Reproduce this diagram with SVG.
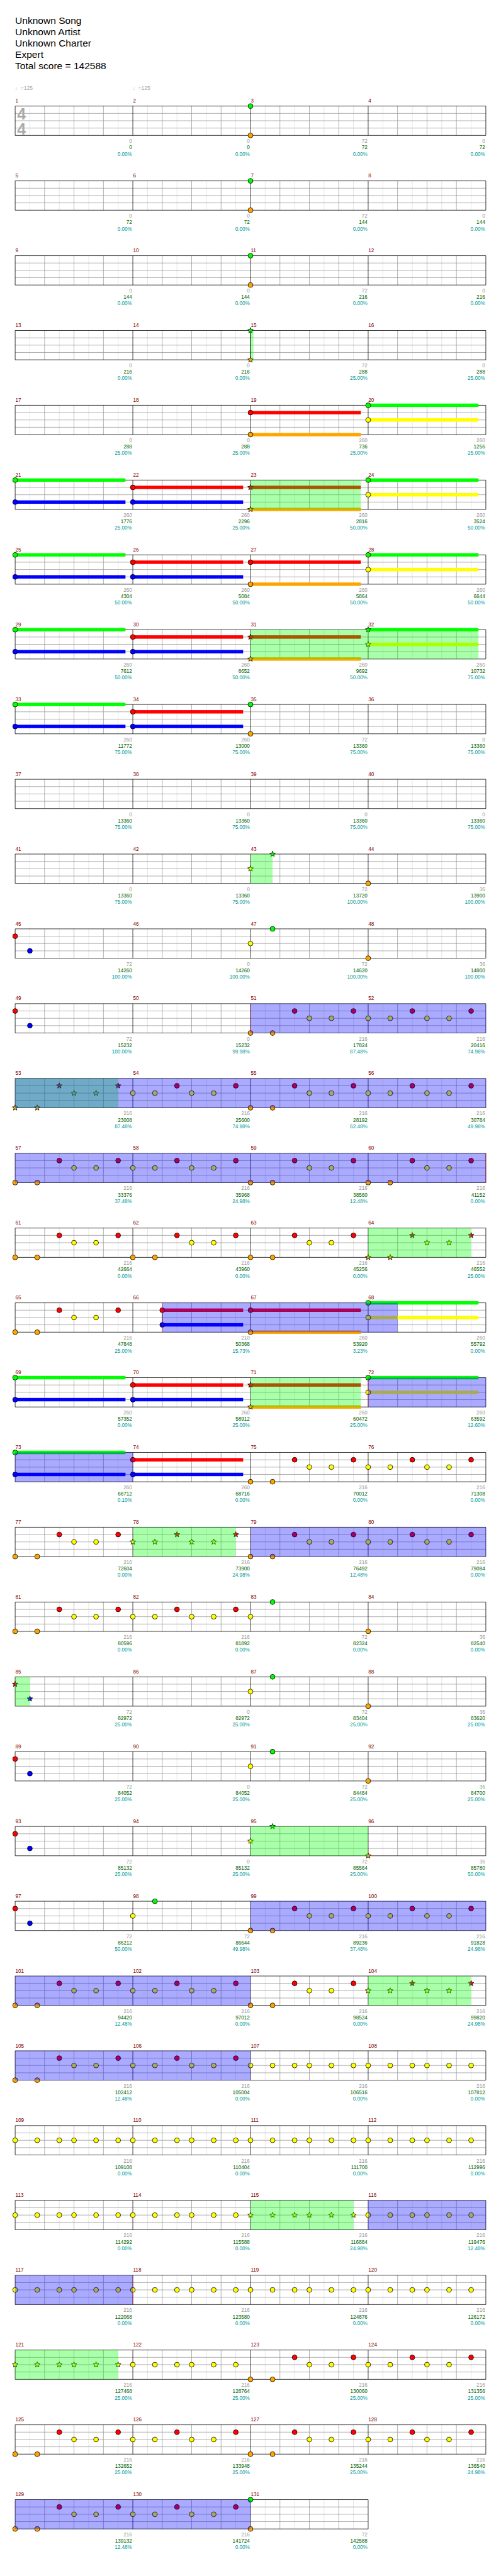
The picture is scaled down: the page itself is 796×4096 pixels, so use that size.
<svg xmlns="http://www.w3.org/2000/svg" xmlns:xlink="http://www.w3.org/1999/xlink" width="796" height="4096" viewBox="0 0 796 4096">
<style>
text{font-family:"Liberation Sans",Arial,sans-serif}
.h{font-size:20px;fill:#000}
.mn{font-size:10.5px;fill:#800000}
.a text,.b text,.c text{font-size:10.5px;text-anchor:end}
.a{fill:#999}.b{fill:#006400}.c{fill:#009a9a}
.n{stroke:#000;stroke-width:1}
.G{fill:#00ff00}.R{fill:#ff0000}.Y{fill:#ffff00}.B{fill:#0000ff}.O{fill:#ffa500}
.sp{fill:#00ff00;fill-opacity:.333}
.so{fill:#0000ff;fill-opacity:.333}
.sl{stroke:#ff0000;stroke-opacity:.55;stroke-width:1;fill:none}
.lt{stroke:#dddddd;stroke-width:1;fill:none}
.md{stroke:#999;stroke-width:1;fill:none}
.bk{stroke:#000;stroke-width:1;fill:none}
.tp{font-size:11px;fill:#aaa}
.ts{font-size:32px;font-weight:bold;fill:#aaa}
</style>
<defs>
<circle id="c" class="n" r="5"/>
<path id="st" class="n" d="M0-6L1.53-2.1L5.71-1.85L2.47.8L3.53 4.85L0 2.6L-3.53 4.85L-2.47.8L-5.71-1.85L-1.53-2.1Z"/>
<g id="meas"><path class="lt" d="M30.06 0V60M90.19 0V60M150.31 0V60M210.44 0V60"/><path class="md" d="M60.13 0V60M120.25 0V60M180.38 0V60"/></g>
<g id="row4"><rect x="31" y="0" width="962" height="60" fill="#fff"/><use href="#meas" x="31"/><use href="#meas" x="271.5"/><use href="#meas" x="512"/><use href="#meas" x="752.5"/><path class="md" d="M31 15H993M31 30H993M31 45H993"/><path class="bk" d="M31 0H993V60H31ZM271.5 0V60M512 0V60M752.5 0V60"/></g>
<g id="row3"><rect x="31" y="0" width="721.5" height="60" fill="#fff"/><use href="#meas" x="31"/><use href="#meas" x="271.5"/><use href="#meas" x="512"/><path class="md" d="M31 15H752.5M31 30H752.5M31 45H752.5"/><path class="bk" d="M31 0H752.5V60H31ZM271.5 0V60M512 0V60"/></g>
<g id="pA"><use href="#c" class="O" y="60"/><use href="#c" class="O" x="45.09" y="60"/><use href="#c" class="R" x="90.19" y="15"/><use href="#c" class="Y" x="120.25" y="30"/><use href="#c" class="Y" x="165.34" y="30"/><use href="#c" class="R" x="210.44" y="15"/></g>
<g id="pAs"><use href="#st" class="O" y="60"/><use href="#st" class="O" x="45.09" y="60"/><use href="#st" class="R" x="90.19" y="15"/><use href="#st" class="Y" x="120.25" y="30"/><use href="#st" class="Y" x="165.34" y="30"/><use href="#st" class="R" x="210.44" y="15"/></g>
<g id="pB"><use href="#c" class="Y" y="30"/><use href="#c" class="Y" x="45.09" y="30"/><use href="#c" class="R" x="90.19" y="15"/><use href="#c" class="Y" x="120.25" y="30"/><use href="#c" class="Y" x="165.34" y="30"/><use href="#c" class="R" x="210.44" y="15"/></g>
<g id="pBs"><use href="#st" class="Y" y="30"/><use href="#st" class="Y" x="45.09" y="30"/><use href="#st" class="R" x="90.19" y="15"/><use href="#st" class="Y" x="120.25" y="30"/><use href="#st" class="Y" x="165.34" y="30"/><use href="#st" class="R" x="210.44" y="15"/></g>
<g id="pC"><use href="#c" class="Y" y="30"/><use href="#c" class="Y" x="45.09" y="30"/><use href="#c" class="Y" x="90.19" y="30"/><use href="#c" class="Y" x="120.25" y="30"/><use href="#c" class="Y" x="165.34" y="30"/><use href="#c" class="Y" x="210.44" y="30"/></g>
<g id="pCs"><use href="#st" class="Y" y="30"/><use href="#st" class="Y" x="45.09" y="30"/><use href="#st" class="Y" x="90.19" y="30"/><use href="#st" class="Y" x="120.25" y="30"/><use href="#st" class="Y" x="165.34" y="30"/><use href="#st" class="Y" x="210.44" y="30"/></g>
<g id="sGB"><rect class="G" y="-3.5" width="225.47" height="7"/><rect class="B" y="41.5" width="225.47" height="7"/><use href="#c" class="G"/><use href="#c" class="B" y="45"/></g>
<g id="sRB"><rect class="R" y="11.5" width="225.47" height="7"/><rect class="B" y="41.5" width="225.47" height="7"/><use href="#c" class="R" y="15"/><use href="#c" class="B" y="45"/></g>
<g id="sRO"><rect class="R" y="11.5" width="225.47" height="7"/><rect class="O" y="56.5" width="225.47" height="7"/><use href="#c" class="R" y="15"/><use href="#c" class="O" y="60"/></g>
<g id="sROs"><rect class="R" y="11.5" width="225.47" height="7"/><rect class="O" y="56.5" width="225.47" height="7"/><use href="#st" class="R" y="15"/><use href="#st" class="O" y="60"/></g>
<g id="sGY"><rect class="G" y="-3.5" width="225.47" height="7"/><rect class="Y" y="26.5" width="225.47" height="7"/><use href="#c" class="G"/><use href="#c" class="Y" y="30"/></g>
<g id="sGYs"><rect class="G" y="-3.5" width="225.47" height="7"/><rect class="Y" y="26.5" width="225.47" height="7"/><use href="#st" class="G"/><use href="#st" class="Y" y="30"/></g>
<g id="pGO"><use href="#c" class="G"/><use href="#c" class="O" y="60"/></g>
<g id="pGOs"><use href="#st" class="G"/><use href="#st" class="O" y="60"/></g>
<g id="pRB1"><use href="#c" class="R" y="15"/><use href="#c" class="B" x="30.06" y="45"/></g>
<g id="pRB1s"><use href="#st" class="R" y="15"/><use href="#st" class="B" x="30.06" y="45"/></g>
<g id="pYG"><use href="#c" class="Y" y="30"/><use href="#c" class="G" x="45.09"/></g>
<g id="pYGs"><use href="#st" class="Y" y="30"/><use href="#st" class="G" x="45.09"/></g>
<g id="pO"><use href="#c" class="O" y="60"/></g>
<g id="pOs"><use href="#st" class="O" y="60"/></g>
</defs>
<rect width="796" height="4096" fill="#fff"/>
<g transform="scale(0.77734)">
<g id="header">
<text class="h" x="31" y="49">Unknown Song</text>
<text class="h" x="31" y="72">Unknown Artist</text>
<text class="h" x="31" y="95">Unknown Charter</text>
<text class="h" x="31" y="118">Expert</text>
<text class="h" x="31" y="141">Total score = 142588</text>
</g>

<g id="r0" transform="translate(0,217)"><use href="#row4"/>
<text class="ts" x="35" y="28">4</text><text class="ts" x="35" y="58">4</text>
<text class="tp" x="31" y="-33">♩=125</text><text class="tp" x="271.5" y="-33">♩=125</text>
<use href="#pGO" x="512"/>
<text class="mn" x="31.5" y="-7">1</text><text class="mn" x="272" y="-7">2</text><text class="mn" x="512.5" y="-7">3</text><text class="mn" x="753" y="-7">4</text>
<g class="a"><text x="270" y="75.5">0</text><text x="510.5" y="75.5">0</text><text x="751" y="75.5">72</text><text x="991.5" y="75.5">0</text></g>
<g class="b"><text x="270" y="88.5">0</text><text x="510.5" y="88.5">0</text><text x="751" y="88.5">72</text><text x="991.5" y="88.5">72</text></g>
<g class="c"><text x="270" y="101.5">0.00%</text><text x="510.5" y="101.5">0.00%</text><text x="751" y="101.5">0.00%</text><text x="991.5" y="101.5">0.00%</text></g>
</g>

<g id="r1" transform="translate(0,370)"><use href="#row4"/>
<use href="#pGO" x="512"/>
<text class="mn" x="31.5" y="-7">5</text><text class="mn" x="272" y="-7">6</text><text class="mn" x="512.5" y="-7">7</text><text class="mn" x="753" y="-7">8</text>
<g class="a"><text x="270" y="75.5">0</text><text x="510.5" y="75.5">0</text><text x="751" y="75.5">72</text><text x="991.5" y="75.5">0</text></g>
<g class="b"><text x="270" y="88.5">72</text><text x="510.5" y="88.5">72</text><text x="751" y="88.5">144</text><text x="991.5" y="88.5">144</text></g>
<g class="c"><text x="270" y="101.5">0.00%</text><text x="510.5" y="101.5">0.00%</text><text x="751" y="101.5">0.00%</text><text x="991.5" y="101.5">0.00%</text></g>
</g>

<g id="r2" transform="translate(0,523)"><use href="#row4"/>
<use href="#pGO" x="512"/>
<text class="mn" x="31.5" y="-7">9</text><text class="mn" x="272" y="-7">10</text><text class="mn" x="512.5" y="-7">11</text><text class="mn" x="753" y="-7">12</text>
<g class="a"><text x="270" y="75.5">0</text><text x="510.5" y="75.5">0</text><text x="751" y="75.5">72</text><text x="991.5" y="75.5">0</text></g>
<g class="b"><text x="270" y="88.5">144</text><text x="510.5" y="88.5">144</text><text x="751" y="88.5">216</text><text x="991.5" y="88.5">216</text></g>
<g class="c"><text x="270" y="101.5">0.00%</text><text x="510.5" y="101.5">0.00%</text><text x="751" y="101.5">0.00%</text><text x="991.5" y="101.5">0.00%</text></g>
</g>

<g id="r3" transform="translate(0,676)"><use href="#row4"/>
<path class="bk" d="M512 0V60"/><use href="#pGOs" x="512"/>
<rect class="sp" x="512" y="0" width="6" height="60"/>
<text class="mn" x="31.5" y="-7">13</text><text class="mn" x="272" y="-7">14</text><text class="mn" x="512.5" y="-7">15</text><text class="mn" x="753" y="-7">16</text>
<g class="a"><text x="270" y="75.5">0</text><text x="510.5" y="75.5">0</text><text x="751" y="75.5">72</text><text x="991.5" y="75.5">0</text></g>
<g class="b"><text x="270" y="88.5">216</text><text x="510.5" y="88.5">216</text><text x="751" y="88.5">288</text><text x="991.5" y="88.5">288</text></g>
<g class="c"><text x="270" y="101.5">0.00%</text><text x="510.5" y="101.5">0.00%</text><text x="751" y="101.5">25.00%</text><text x="991.5" y="101.5">25.00%</text></g>
</g>

<g id="r4" transform="translate(0,829)"><use href="#row4"/>
<use href="#sRO" x="512"/><use href="#sGY" x="752.5"/>
<text class="mn" x="31.5" y="-7">17</text><text class="mn" x="272" y="-7">18</text><text class="mn" x="512.5" y="-7">19</text><text class="mn" x="753" y="-7">20</text>
<g class="a"><text x="270" y="75.5">0</text><text x="510.5" y="75.5">0</text><text x="751" y="75.5">260</text><text x="991.5" y="75.5">260</text></g>
<g class="b"><text x="270" y="88.5">288</text><text x="510.5" y="88.5">288</text><text x="751" y="88.5">736</text><text x="991.5" y="88.5">1256</text></g>
<g class="c"><text x="270" y="101.5">25.00%</text><text x="510.5" y="101.5">25.00%</text><text x="751" y="101.5">25.00%</text><text x="991.5" y="101.5">25.00%</text></g>
</g>

<g id="r5" transform="translate(0,982)"><use href="#row4"/>
<use href="#sGB" x="31"/><use href="#sRB" x="271.5"/><use href="#sROs" x="512"/><use href="#sGY" x="752.5"/>
<rect class="sp" x="512" y="0" width="225.47" height="60"/>
<text class="mn" x="31.5" y="-7">21</text><text class="mn" x="272" y="-7">22</text><text class="mn" x="512.5" y="-7">23</text><text class="mn" x="753" y="-7">24</text>
<g class="a"><text x="270" y="75.5">260</text><text x="510.5" y="75.5">260</text><text x="751" y="75.5">260</text><text x="991.5" y="75.5">260</text></g>
<g class="b"><text x="270" y="88.5">1776</text><text x="510.5" y="88.5">2296</text><text x="751" y="88.5">2816</text><text x="991.5" y="88.5">3524</text></g>
<g class="c"><text x="270" y="101.5">25.00%</text><text x="510.5" y="101.5">25.00%</text><text x="751" y="101.5">50.00%</text><text x="991.5" y="101.5">50.00%</text></g>
</g>

<g id="r6" transform="translate(0,1135)"><use href="#row4"/>
<use href="#sGB" x="31"/><use href="#sRB" x="271.5"/><use href="#sRO" x="512"/><use href="#sGY" x="752.5"/>
<text class="mn" x="31.5" y="-7">25</text><text class="mn" x="272" y="-7">26</text><text class="mn" x="512.5" y="-7">27</text><text class="mn" x="753" y="-7">28</text>
<g class="a"><text x="270" y="75.5">260</text><text x="510.5" y="75.5">260</text><text x="751" y="75.5">260</text><text x="991.5" y="75.5">260</text></g>
<g class="b"><text x="270" y="88.5">4304</text><text x="510.5" y="88.5">5084</text><text x="751" y="88.5">5864</text><text x="991.5" y="88.5">6644</text></g>
<g class="c"><text x="270" y="101.5">50.00%</text><text x="510.5" y="101.5">50.00%</text><text x="751" y="101.5">50.00%</text><text x="991.5" y="101.5">50.00%</text></g>
</g>

<g id="r7" transform="translate(0,1288)"><use href="#row4"/>
<use href="#sGB" x="31"/><use href="#sRB" x="271.5"/><use href="#sROs" x="512"/><use href="#sGYs" x="752.5"/>
<rect class="sp" x="512" y="0" width="465.97" height="60"/>
<text class="mn" x="31.5" y="-7">29</text><text class="mn" x="272" y="-7">30</text><text class="mn" x="512.5" y="-7">31</text><text class="mn" x="753" y="-7">32</text>
<g class="a"><text x="270" y="75.5">260</text><text x="510.5" y="75.5">260</text><text x="751" y="75.5">260</text><text x="991.5" y="75.5">260</text></g>
<g class="b"><text x="270" y="88.5">7612</text><text x="510.5" y="88.5">8652</text><text x="751" y="88.5">9692</text><text x="991.5" y="88.5">10732</text></g>
<g class="c"><text x="270" y="101.5">50.00%</text><text x="510.5" y="101.5">50.00%</text><text x="751" y="101.5">50.00%</text><text x="991.5" y="101.5">75.00%</text></g>
</g>

<g id="r8" transform="translate(0,1441)"><use href="#row4"/>
<use href="#sGB" x="31"/><use href="#sRB" x="271.5"/><use href="#pGO" x="512"/>
<text class="mn" x="31.5" y="-7">33</text><text class="mn" x="272" y="-7">34</text><text class="mn" x="512.5" y="-7">35</text><text class="mn" x="753" y="-7">36</text>
<g class="a"><text x="270" y="75.5">260</text><text x="510.5" y="75.5">260</text><text x="751" y="75.5">72</text><text x="991.5" y="75.5">0</text></g>
<g class="b"><text x="270" y="88.5">11772</text><text x="510.5" y="88.5">13000</text><text x="751" y="88.5">13360</text><text x="991.5" y="88.5">13360</text></g>
<g class="c"><text x="270" y="101.5">75.00%</text><text x="510.5" y="101.5">75.00%</text><text x="751" y="101.5">75.00%</text><text x="991.5" y="101.5">75.00%</text></g>
</g>

<g id="r9" transform="translate(0,1594)"><use href="#row4"/>
<text class="mn" x="31.5" y="-7">37</text><text class="mn" x="272" y="-7">38</text><text class="mn" x="512.5" y="-7">39</text><text class="mn" x="753" y="-7">40</text>
<g class="a"><text x="270" y="75.5">0</text><text x="510.5" y="75.5">0</text><text x="751" y="75.5">0</text><text x="991.5" y="75.5">0</text></g>
<g class="b"><text x="270" y="88.5">13360</text><text x="510.5" y="88.5">13360</text><text x="751" y="88.5">13360</text><text x="991.5" y="88.5">13360</text></g>
<g class="c"><text x="270" y="101.5">75.00%</text><text x="510.5" y="101.5">75.00%</text><text x="751" y="101.5">75.00%</text><text x="991.5" y="101.5">75.00%</text></g>
</g>

<g id="r10" transform="translate(0,1747)"><use href="#row4"/>
<use href="#pYGs" x="512"/><use href="#pO" x="752.5"/>
<rect class="sp" x="512" y="0" width="45.09" height="60"/>
<text class="mn" x="31.5" y="-7">41</text><text class="mn" x="272" y="-7">42</text><text class="mn" x="512.5" y="-7">43</text><text class="mn" x="753" y="-7">44</text>
<g class="a"><text x="270" y="75.5">0</text><text x="510.5" y="75.5">0</text><text x="751" y="75.5">72</text><text x="991.5" y="75.5">36</text></g>
<g class="b"><text x="270" y="88.5">13360</text><text x="510.5" y="88.5">13360</text><text x="751" y="88.5">13720</text><text x="991.5" y="88.5">13900</text></g>
<g class="c"><text x="270" y="101.5">75.00%</text><text x="510.5" y="101.5">75.00%</text><text x="751" y="101.5">100.00%</text><text x="991.5" y="101.5">100.00%</text></g>
</g>

<g id="r11" transform="translate(0,1900)"><use href="#row4"/>
<use href="#pRB1" x="31"/><use href="#pYG" x="512"/><use href="#pO" x="752.5"/>
<text class="mn" x="31.5" y="-7">45</text><text class="mn" x="272" y="-7">46</text><text class="mn" x="512.5" y="-7">47</text><text class="mn" x="753" y="-7">48</text>
<g class="a"><text x="270" y="75.5">72</text><text x="510.5" y="75.5">0</text><text x="751" y="75.5">72</text><text x="991.5" y="75.5">36</text></g>
<g class="b"><text x="270" y="88.5">14260</text><text x="510.5" y="88.5">14260</text><text x="751" y="88.5">14620</text><text x="991.5" y="88.5">14800</text></g>
<g class="c"><text x="270" y="101.5">100.00%</text><text x="510.5" y="101.5">100.00%</text><text x="751" y="101.5">100.00%</text><text x="991.5" y="101.5">100.00%</text></g>
</g>

<g id="r12" transform="translate(0,2053)"><use href="#row4"/>
<use href="#pRB1" x="31"/><use href="#pA" x="512"/><use href="#pB" x="752.5"/>
<rect class="so" x="512" y="0" width="481" height="60"/>
<path class="sl" d="M512 0V60"/>
<text class="mn" x="31.5" y="-7">49</text><text class="mn" x="272" y="-7">50</text><text class="mn" x="512.5" y="-7">51</text><text class="mn" x="753" y="-7">52</text>
<g class="a"><text x="270" y="75.5">72</text><text x="510.5" y="75.5">0</text><text x="751" y="75.5">216</text><text x="991.5" y="75.5">216</text></g>
<g class="b"><text x="270" y="88.5">15232</text><text x="510.5" y="88.5">15232</text><text x="751" y="88.5">17824</text><text x="991.5" y="88.5">20416</text></g>
<g class="c"><text x="270" y="101.5">100.00%</text><text x="510.5" y="101.5">99.98%</text><text x="751" y="101.5">87.48%</text><text x="991.5" y="101.5">74.98%</text></g>
</g>

<g id="r13" transform="translate(0,2206)"><use href="#row4"/>
<use href="#pAs" x="31"/><use href="#pB" x="271.5"/><use href="#pA" x="512"/><use href="#pB" x="752.5"/>
<rect class="sp" x="31" y="0" width="210.44" height="60"/>
<rect class="so" x="31" y="0" width="962" height="60"/>
<text class="mn" x="31.5" y="-7">53</text><text class="mn" x="272" y="-7">54</text><text class="mn" x="512.5" y="-7">55</text><text class="mn" x="753" y="-7">56</text>
<g class="a"><text x="270" y="75.5">216</text><text x="510.5" y="75.5">216</text><text x="751" y="75.5">216</text><text x="991.5" y="75.5">216</text></g>
<g class="b"><text x="270" y="88.5">23008</text><text x="510.5" y="88.5">25600</text><text x="751" y="88.5">28192</text><text x="991.5" y="88.5">30784</text></g>
<g class="c"><text x="270" y="101.5">87.48%</text><text x="510.5" y="101.5">74.98%</text><text x="751" y="101.5">62.48%</text><text x="991.5" y="101.5">49.98%</text></g>
</g>

<g id="r14" transform="translate(0,2359)"><use href="#row4"/>
<use href="#pA" x="31"/><use href="#pB" x="271.5"/><use href="#pA" x="512"/><use href="#pA" x="752.5"/>
<rect class="so" x="31" y="0" width="962" height="60"/>
<path class="sl" d="M993 0V60"/>
<text class="mn" x="31.5" y="-7">57</text><text class="mn" x="272" y="-7">58</text><text class="mn" x="512.5" y="-7">59</text><text class="mn" x="753" y="-7">60</text>
<g class="a"><text x="270" y="75.5">216</text><text x="510.5" y="75.5">216</text><text x="751" y="75.5">216</text><text x="991.5" y="75.5">216</text></g>
<g class="b"><text x="270" y="88.5">33376</text><text x="510.5" y="88.5">35968</text><text x="751" y="88.5">38560</text><text x="991.5" y="88.5">41152</text></g>
<g class="c"><text x="270" y="101.5">37.48%</text><text x="510.5" y="101.5">24.98%</text><text x="751" y="101.5">12.48%</text><text x="991.5" y="101.5">0.00%</text></g>
</g>

<g id="r15" transform="translate(0,2512)"><use href="#row4"/>
<use href="#pA" x="31"/><use href="#pA" x="271.5"/><use href="#pA" x="512"/><use href="#pAs" x="752.5"/>
<rect class="sp" x="752.5" y="0" width="210.44" height="60"/>
<text class="mn" x="31.5" y="-7">61</text><text class="mn" x="272" y="-7">62</text><text class="mn" x="512.5" y="-7">63</text><text class="mn" x="753" y="-7">64</text>
<g class="a"><text x="270" y="75.5">216</text><text x="510.5" y="75.5">216</text><text x="751" y="75.5">216</text><text x="991.5" y="75.5">216</text></g>
<g class="b"><text x="270" y="88.5">42664</text><text x="510.5" y="88.5">43960</text><text x="751" y="88.5">45256</text><text x="991.5" y="88.5">46552</text></g>
<g class="c"><text x="270" y="101.5">0.00%</text><text x="510.5" y="101.5">0.00%</text><text x="751" y="101.5">0.00%</text><text x="991.5" y="101.5">25.00%</text></g>
</g>

<g id="r16" transform="translate(0,2665)"><use href="#row4"/>
<use href="#pA" x="31"/>
<rect class="R" x="331.63" y="11.5" width="165.34" height="7"/><rect class="B" x="331.63" y="41.5" width="165.34" height="7"/>
<path class="bk" d="M331.63 15V45"/><use href="#c" class="R" x="331.63" y="15"/><use href="#c" class="B" x="331.63" y="45"/>
<use href="#sRO" x="512"/><use href="#sGY" x="752.5"/>
<rect class="so" x="331.63" y="0" width="481" height="60"/>
<path class="sl" d="M331.63 0V60"/>
<text class="mn" x="31.5" y="-7">65</text><text class="mn" x="272" y="-7">66</text><text class="mn" x="512.5" y="-7">67</text><text class="mn" x="753" y="-7">68</text>
<g class="a"><text x="270" y="75.5">216</text><text x="510.5" y="75.5">210</text><text x="751" y="75.5">260</text><text x="991.5" y="75.5">260</text></g>
<g class="b"><text x="270" y="88.5">47848</text><text x="510.5" y="88.5">50368</text><text x="751" y="88.5">53920</text><text x="991.5" y="88.5">55792</text></g>
<g class="c"><text x="270" y="101.5">25.00%</text><text x="510.5" y="101.5">15.73%</text><text x="751" y="101.5">3.23%</text><text x="991.5" y="101.5">0.00%</text></g>
</g>

<g id="r17" transform="translate(0,2818)"><use href="#row4"/>
<use href="#sGB" x="31"/><use href="#sRB" x="271.5"/><use href="#sROs" x="512"/><use href="#sGY" x="752.5"/>
<rect class="sp" x="512" y="0" width="225.47" height="60"/>
<rect class="so" x="752.5" y="0" width="240.5" height="60"/>
<path class="sl" d="M752.5 0V60"/>
<text class="mn" x="31.5" y="-7">69</text><text class="mn" x="272" y="-7">70</text><text class="mn" x="512.5" y="-7">71</text><text class="mn" x="753" y="-7">72</text>
<g class="a"><text x="270" y="75.5">260</text><text x="510.5" y="75.5">260</text><text x="751" y="75.5">260</text><text x="991.5" y="75.5">260</text></g>
<g class="b"><text x="270" y="88.5">57352</text><text x="510.5" y="88.5">58912</text><text x="751" y="88.5">60472</text><text x="991.5" y="88.5">63592</text></g>
<g class="c"><text x="270" y="101.5">0.00%</text><text x="510.5" y="101.5">25.00%</text><text x="751" y="101.5">25.00%</text><text x="991.5" y="101.5">12.60%</text></g>
</g>

<g id="r18" transform="translate(0,2971)"><use href="#row4"/>
<use href="#sGB" x="31"/><use href="#sRB" x="271.5"/><use href="#pA" x="512"/><use href="#pB" x="752.5"/>
<rect class="so" x="31" y="0" width="240.5" height="60"/>
<text class="mn" x="31.5" y="-7">73</text><text class="mn" x="272" y="-7">74</text><text class="mn" x="512.5" y="-7">75</text><text class="mn" x="753" y="-7">76</text>
<g class="a"><text x="270" y="75.5">260</text><text x="510.5" y="75.5">260</text><text x="751" y="75.5">216</text><text x="991.5" y="75.5">216</text></g>
<g class="b"><text x="270" y="88.5">66712</text><text x="510.5" y="88.5">68716</text><text x="751" y="88.5">70012</text><text x="991.5" y="88.5">71308</text></g>
<g class="c"><text x="270" y="101.5">0.10%</text><text x="510.5" y="101.5">0.00%</text><text x="751" y="101.5">0.00%</text><text x="991.5" y="101.5">0.00%</text></g>
</g>

<g id="r19" transform="translate(0,3124)"><use href="#row4"/>
<use href="#pA" x="31"/><use href="#pBs" x="271.5"/><use href="#pA" x="512"/><use href="#pB" x="752.5"/>
<rect class="sp" x="271.5" y="0" width="210.44" height="60"/>
<rect class="so" x="512" y="0" width="481" height="60"/>
<text class="mn" x="31.5" y="-7">77</text><text class="mn" x="272" y="-7">78</text><text class="mn" x="512.5" y="-7">79</text><text class="mn" x="753" y="-7">80</text>
<g class="a"><text x="270" y="75.5">216</text><text x="510.5" y="75.5">216</text><text x="751" y="75.5">216</text><text x="991.5" y="75.5">216</text></g>
<g class="b"><text x="270" y="88.5">72604</text><text x="510.5" y="88.5">73900</text><text x="751" y="88.5">76492</text><text x="991.5" y="88.5">79084</text></g>
<g class="c"><text x="270" y="101.5">0.00%</text><text x="510.5" y="101.5">24.98%</text><text x="751" y="101.5">12.48%</text><text x="991.5" y="101.5">0.00%</text></g>
</g>

<g id="r20" transform="translate(0,3277)"><use href="#row4"/>
<use href="#pA" x="31"/><use href="#pB" x="271.5"/><use href="#pYG" x="512"/><use href="#pO" x="752.5"/>
<text class="mn" x="31.5" y="-7">81</text><text class="mn" x="272" y="-7">82</text><text class="mn" x="512.5" y="-7">83</text><text class="mn" x="753" y="-7">84</text>
<g class="a"><text x="270" y="75.5">216</text><text x="510.5" y="75.5">216</text><text x="751" y="75.5">72</text><text x="991.5" y="75.5">36</text></g>
<g class="b"><text x="270" y="88.5">80596</text><text x="510.5" y="88.5">81892</text><text x="751" y="88.5">82324</text><text x="991.5" y="88.5">82540</text></g>
<g class="c"><text x="270" y="101.5">0.00%</text><text x="510.5" y="101.5">0.00%</text><text x="751" y="101.5">0.00%</text><text x="991.5" y="101.5">0.00%</text></g>
</g>

<g id="r21" transform="translate(0,3430)"><use href="#row4"/>
<use href="#pRB1s" x="31"/><use href="#pYG" x="512"/><use href="#pO" x="752.5"/>
<rect class="sp" x="31" y="0" width="30.06" height="60"/>
<text class="mn" x="31.5" y="-7">85</text><text class="mn" x="272" y="-7">86</text><text class="mn" x="512.5" y="-7">87</text><text class="mn" x="753" y="-7">88</text>
<g class="a"><text x="270" y="75.5">72</text><text x="510.5" y="75.5">0</text><text x="751" y="75.5">72</text><text x="991.5" y="75.5">36</text></g>
<g class="b"><text x="270" y="88.5">82972</text><text x="510.5" y="88.5">82972</text><text x="751" y="88.5">83404</text><text x="991.5" y="88.5">83620</text></g>
<g class="c"><text x="270" y="101.5">25.00%</text><text x="510.5" y="101.5">25.00%</text><text x="751" y="101.5">25.00%</text><text x="991.5" y="101.5">25.00%</text></g>
</g>

<g id="r22" transform="translate(0,3583)"><use href="#row4"/>
<use href="#pRB1" x="31"/><use href="#pYG" x="512"/><use href="#pO" x="752.5"/>
<text class="mn" x="31.5" y="-7">89</text><text class="mn" x="272" y="-7">90</text><text class="mn" x="512.5" y="-7">91</text><text class="mn" x="753" y="-7">92</text>
<g class="a"><text x="270" y="75.5">72</text><text x="510.5" y="75.5">0</text><text x="751" y="75.5">72</text><text x="991.5" y="75.5">36</text></g>
<g class="b"><text x="270" y="88.5">84052</text><text x="510.5" y="88.5">84052</text><text x="751" y="88.5">84484</text><text x="991.5" y="88.5">84700</text></g>
<g class="c"><text x="270" y="101.5">25.00%</text><text x="510.5" y="101.5">25.00%</text><text x="751" y="101.5">25.00%</text><text x="991.5" y="101.5">25.00%</text></g>
</g>

<g id="r23" transform="translate(0,3736)"><use href="#row4"/>
<use href="#pRB1" x="31"/><use href="#pYGs" x="512"/><use href="#pOs" x="752.5"/>
<rect class="sp" x="512" y="0" width="240.5" height="60"/>
<text class="mn" x="31.5" y="-7">93</text><text class="mn" x="272" y="-7">94</text><text class="mn" x="512.5" y="-7">95</text><text class="mn" x="753" y="-7">96</text>
<g class="a"><text x="270" y="75.5">72</text><text x="510.5" y="75.5">0</text><text x="751" y="75.5">72</text><text x="991.5" y="75.5">36</text></g>
<g class="b"><text x="270" y="88.5">85132</text><text x="510.5" y="88.5">85132</text><text x="751" y="88.5">85564</text><text x="991.5" y="88.5">85780</text></g>
<g class="c"><text x="270" y="101.5">25.00%</text><text x="510.5" y="101.5">25.00%</text><text x="751" y="101.5">25.00%</text><text x="991.5" y="101.5">50.00%</text></g>
</g>

<g id="r24" transform="translate(0,3889)"><use href="#row4"/>
<use href="#pRB1" x="31"/><use href="#pYG" x="271.5"/><use href="#pA" x="512"/><use href="#pB" x="752.5"/>
<rect class="so" x="512" y="0" width="481" height="60"/>
<text class="mn" x="31.5" y="-7">97</text><text class="mn" x="272" y="-7">98</text><text class="mn" x="512.5" y="-7">99</text><text class="mn" x="753" y="-7">100</text>
<g class="a"><text x="270" y="75.5">72</text><text x="510.5" y="75.5">72</text><text x="751" y="75.5">216</text><text x="991.5" y="75.5">216</text></g>
<g class="b"><text x="270" y="88.5">86212</text><text x="510.5" y="88.5">86644</text><text x="751" y="88.5">89236</text><text x="991.5" y="88.5">91828</text></g>
<g class="c"><text x="270" y="101.5">50.00%</text><text x="510.5" y="101.5">49.98%</text><text x="751" y="101.5">37.48%</text><text x="991.5" y="101.5">24.98%</text></g>
</g>

<g id="r25" transform="translate(0,4042)"><use href="#row4"/>
<use href="#pA" x="31"/><use href="#pB" x="271.5"/><use href="#pA" x="512"/><use href="#pBs" x="752.5"/>
<rect class="sp" x="752.5" y="0" width="210.44" height="60"/>
<rect class="so" x="31" y="0" width="481" height="60"/>
<text class="mn" x="31.5" y="-7">101</text><text class="mn" x="272" y="-7">102</text><text class="mn" x="512.5" y="-7">103</text><text class="mn" x="753" y="-7">104</text>
<g class="a"><text x="270" y="75.5">216</text><text x="510.5" y="75.5">216</text><text x="751" y="75.5">216</text><text x="991.5" y="75.5">216</text></g>
<g class="b"><text x="270" y="88.5">94420</text><text x="510.5" y="88.5">97012</text><text x="751" y="88.5">98524</text><text x="991.5" y="88.5">99820</text></g>
<g class="c"><text x="270" y="101.5">12.48%</text><text x="510.5" y="101.5">0.00%</text><text x="751" y="101.5">0.00%</text><text x="991.5" y="101.5">24.98%</text></g>
</g>

<g id="r26" transform="translate(0,4195)"><use href="#row4"/>
<use href="#pA" x="31"/><use href="#pB" x="271.5"/><use href="#pC" x="512"/><use href="#pC" x="752.5"/>
<rect class="so" x="31" y="0" width="481" height="60"/>
<text class="mn" x="31.5" y="-7">105</text><text class="mn" x="272" y="-7">106</text><text class="mn" x="512.5" y="-7">107</text><text class="mn" x="753" y="-7">108</text>
<g class="a"><text x="270" y="75.5">216</text><text x="510.5" y="75.5">216</text><text x="751" y="75.5">216</text><text x="991.5" y="75.5">216</text></g>
<g class="b"><text x="270" y="88.5">102412</text><text x="510.5" y="88.5">105004</text><text x="751" y="88.5">106516</text><text x="991.5" y="88.5">107812</text></g>
<g class="c"><text x="270" y="101.5">12.48%</text><text x="510.5" y="101.5">0.00%</text><text x="751" y="101.5">0.00%</text><text x="991.5" y="101.5">0.00%</text></g>
</g>

<g id="r27" transform="translate(0,4348)"><use href="#row4"/>
<use href="#pC" x="31"/><use href="#pC" x="271.5"/><use href="#pC" x="512"/><use href="#pC" x="752.5"/>
<text class="mn" x="31.5" y="-7">109</text><text class="mn" x="272" y="-7">110</text><text class="mn" x="512.5" y="-7">111</text><text class="mn" x="753" y="-7">112</text>
<g class="a"><text x="270" y="75.5">216</text><text x="510.5" y="75.5">216</text><text x="751" y="75.5">216</text><text x="991.5" y="75.5">216</text></g>
<g class="b"><text x="270" y="88.5">109108</text><text x="510.5" y="88.5">110404</text><text x="751" y="88.5">111700</text><text x="991.5" y="88.5">112996</text></g>
<g class="c"><text x="270" y="101.5">0.00%</text><text x="510.5" y="101.5">0.00%</text><text x="751" y="101.5">0.00%</text><text x="991.5" y="101.5">0.00%</text></g>
</g>

<g id="r28" transform="translate(0,4501)"><use href="#row4"/>
<use href="#pC" x="31"/><use href="#pC" x="271.5"/><use href="#pCs" x="512"/><use href="#pC" x="752.5"/>
<rect class="sp" x="512" y="0" width="210.44" height="60"/>
<rect class="so" x="752.5" y="0" width="240.5" height="60"/>
<text class="mn" x="31.5" y="-7">113</text><text class="mn" x="272" y="-7">114</text><text class="mn" x="512.5" y="-7">115</text><text class="mn" x="753" y="-7">116</text>
<g class="a"><text x="270" y="75.5">216</text><text x="510.5" y="75.5">216</text><text x="751" y="75.5">216</text><text x="991.5" y="75.5">216</text></g>
<g class="b"><text x="270" y="88.5">114292</text><text x="510.5" y="88.5">115588</text><text x="751" y="88.5">116884</text><text x="991.5" y="88.5">119476</text></g>
<g class="c"><text x="270" y="101.5">0.00%</text><text x="510.5" y="101.5">0.00%</text><text x="751" y="101.5">24.98%</text><text x="991.5" y="101.5">12.48%</text></g>
</g>

<g id="r29" transform="translate(0,4654)"><use href="#row4"/>
<use href="#pC" x="31"/><use href="#pC" x="271.5"/><use href="#pC" x="512"/><use href="#pC" x="752.5"/>
<rect class="so" x="31" y="0" width="240.5" height="60"/>
<path class="sl" d="M271.5 0V60"/>
<text class="mn" x="31.5" y="-7">117</text><text class="mn" x="272" y="-7">118</text><text class="mn" x="512.5" y="-7">119</text><text class="mn" x="753" y="-7">120</text>
<g class="a"><text x="270" y="75.5">216</text><text x="510.5" y="75.5">216</text><text x="751" y="75.5">216</text><text x="991.5" y="75.5">216</text></g>
<g class="b"><text x="270" y="88.5">122068</text><text x="510.5" y="88.5">123580</text><text x="751" y="88.5">124876</text><text x="991.5" y="88.5">126172</text></g>
<g class="c"><text x="270" y="101.5">0.00%</text><text x="510.5" y="101.5">0.00%</text><text x="751" y="101.5">0.00%</text><text x="991.5" y="101.5">0.00%</text></g>
</g>

<g id="r30" transform="translate(0,4807)"><use href="#row4"/>
<use href="#pCs" x="31"/><use href="#pC" x="271.5"/><use href="#pA" x="512"/><use href="#pB" x="752.5"/>
<rect class="sp" x="31" y="0" width="210.44" height="60"/>
<text class="mn" x="31.5" y="-7">121</text><text class="mn" x="272" y="-7">122</text><text class="mn" x="512.5" y="-7">123</text><text class="mn" x="753" y="-7">124</text>
<g class="a"><text x="270" y="75.5">216</text><text x="510.5" y="75.5">216</text><text x="751" y="75.5">216</text><text x="991.5" y="75.5">216</text></g>
<g class="b"><text x="270" y="88.5">127468</text><text x="510.5" y="88.5">128764</text><text x="751" y="88.5">130060</text><text x="991.5" y="88.5">131356</text></g>
<g class="c"><text x="270" y="101.5">25.00%</text><text x="510.5" y="101.5">25.00%</text><text x="751" y="101.5">25.00%</text><text x="991.5" y="101.5">25.00%</text></g>
</g>

<g id="r31" transform="translate(0,4960)"><use href="#row4"/>
<use href="#pA" x="31"/><use href="#pB" x="271.5"/><use href="#pA" x="512"/><use href="#pB" x="752.5"/>
<text class="mn" x="31.5" y="-7">125</text><text class="mn" x="272" y="-7">126</text><text class="mn" x="512.5" y="-7">127</text><text class="mn" x="753" y="-7">128</text>
<g class="a"><text x="270" y="75.5">216</text><text x="510.5" y="75.5">216</text><text x="751" y="75.5">216</text><text x="991.5" y="75.5">216</text></g>
<g class="b"><text x="270" y="88.5">132652</text><text x="510.5" y="88.5">133948</text><text x="751" y="88.5">135244</text><text x="991.5" y="88.5">136540</text></g>
<g class="c"><text x="270" y="101.5">25.00%</text><text x="510.5" y="101.5">25.00%</text><text x="751" y="101.5">25.00%</text><text x="991.5" y="101.5">24.98%</text></g>
</g>

<g id="r32" transform="translate(0,5113)"><use href="#row3"/>
<use href="#pA" x="31"/><use href="#pB" x="271.5"/><use href="#pGO" x="512"/>
<rect class="so" x="31" y="0" width="481" height="60"/>
<text class="mn" x="31.5" y="-7">129</text><text class="mn" x="272" y="-7">130</text><text class="mn" x="512.5" y="-7">131</text>
<g class="a"><text x="270" y="75.5">216</text><text x="510.5" y="75.5">216</text><text x="751" y="75.5">72</text></g>
<g class="b"><text x="270" y="88.5">139132</text><text x="510.5" y="88.5">141724</text><text x="751" y="88.5">142588</text></g>
<g class="c"><text x="270" y="101.5">12.48%</text><text x="510.5" y="101.5">0.00%</text><text x="751" y="101.5">0.00%</text></g>
</g>
</g>
</svg>
